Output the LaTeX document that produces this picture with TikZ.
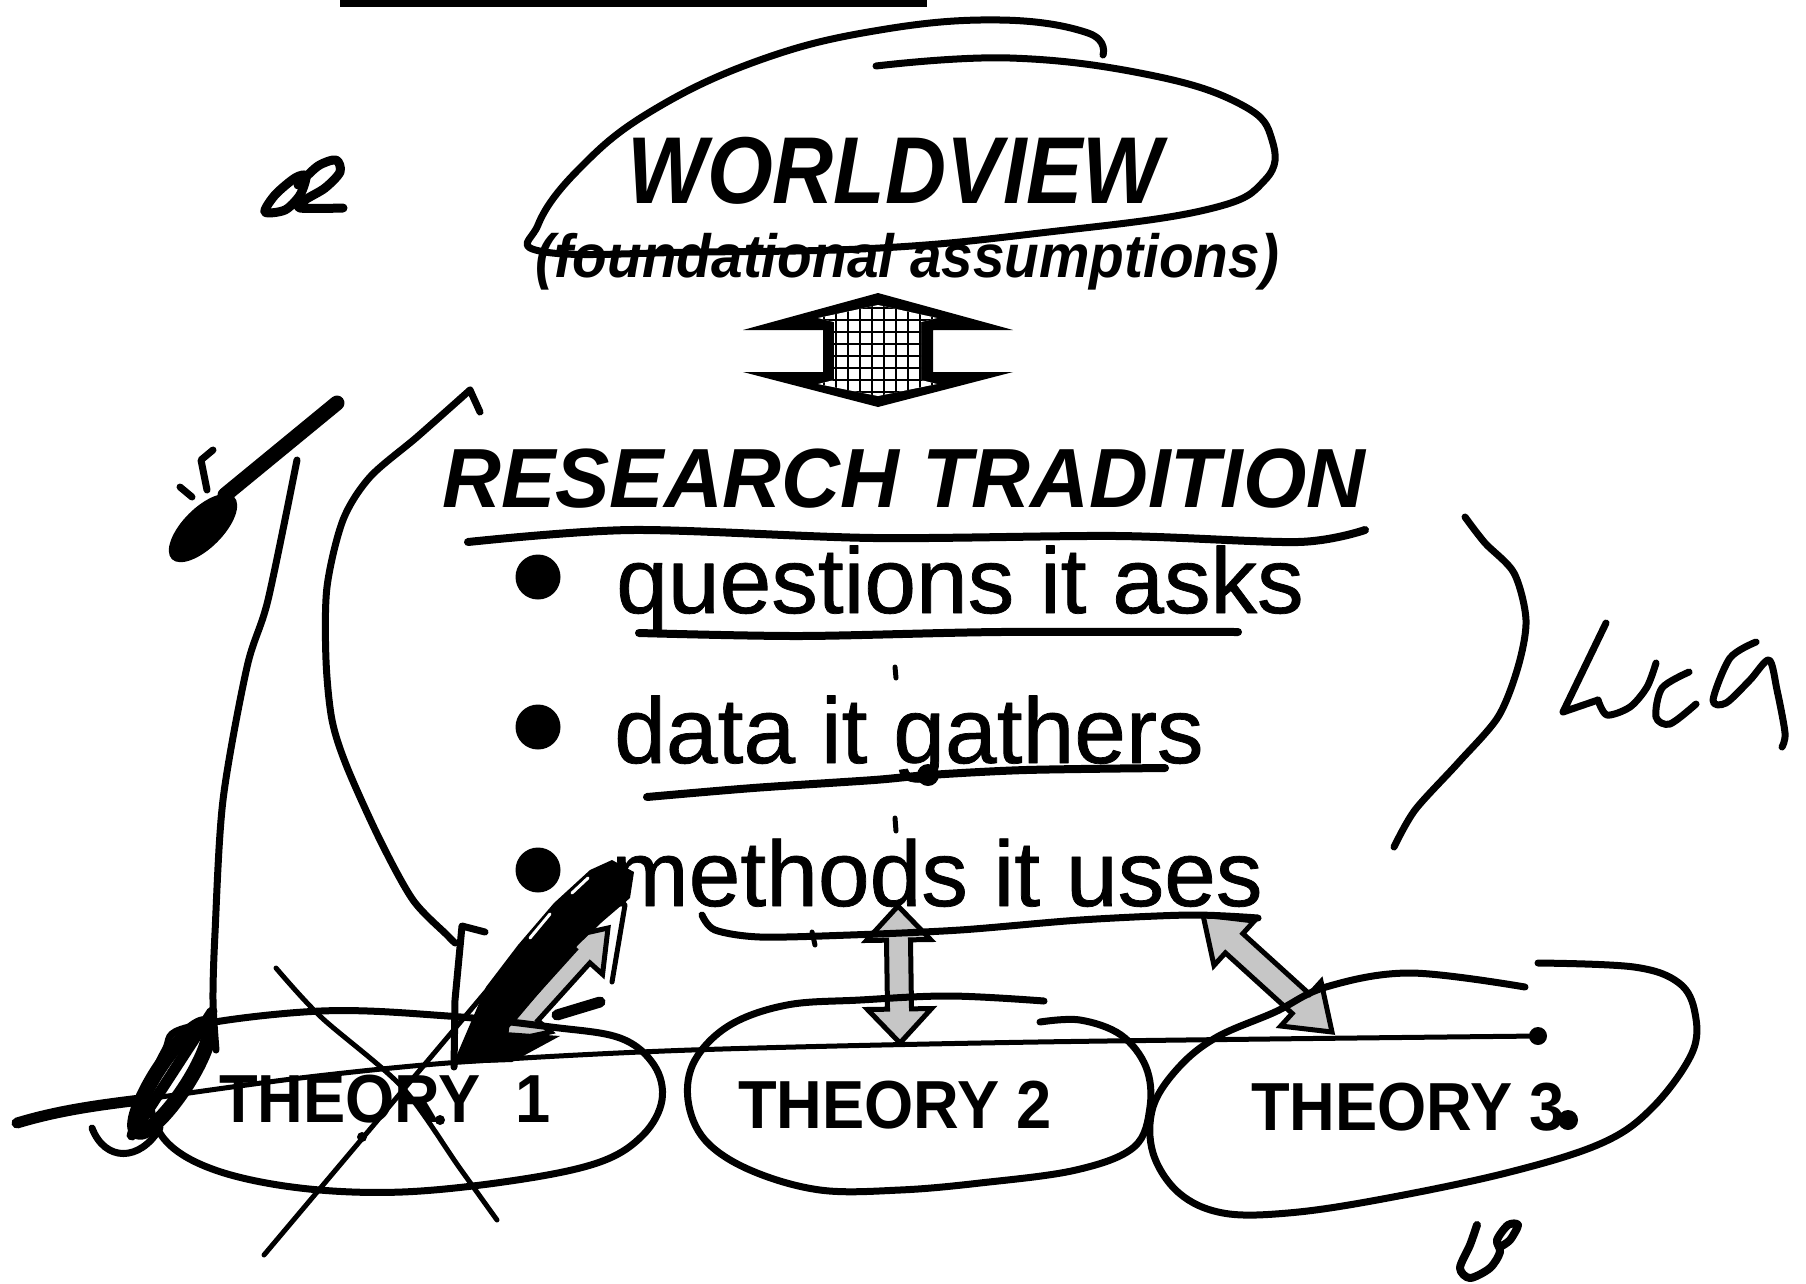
\documentclass[tikz,border=0pt]{standalone}
\usepackage{fontspec}
\setmainfont{Liberation Sans}
\newfontfamily\itemfont[FakeBold=0.8]{Liberation Sans}
\usetikzlibrary{calc}

% two-headed block arrow between two points
\newcommand\twoway[6]{%
  \filldraw[#6] (#1)
    -- ($(#1)!#3!(#2)!#4!90:(#2)$) -- ($(#1)!#3!(#2)!#5!90:(#2)$)
    -- ($(#2)!#3!(#1)!#5!-90:(#1)$) -- ($(#2)!#3!(#1)!#4!-90:(#1)$)
    -- (#2)
    -- ($(#2)!#3!(#1)!#4!90:(#1)$) -- ($(#2)!#3!(#1)!#5!90:(#1)$)
    -- ($(#1)!#3!(#2)!#5!-90:(#2)$) -- ($(#1)!#3!(#2)!#4!-90:(#2)$)
    -- cycle;}

\begin{document}
\begin{tikzpicture}[x=1pt, y=-1pt, line join=round, line cap=round,
    pen/.style={line width=7pt},
    heavypen/.style={line width=11pt},
    thinpen/.style={line width=5pt},
    headtext/.style={inner sep=0pt, anchor=base},
    itemtext/.style={inner sep=0pt, anchor=base west, font=\itemfont\fontsize{93}{100}\selectfont},
    theorytext/.style={inner sep=0pt, anchor=base, font=\fontsize{68}{72}\selectfont\bfseries},
    bullet/.style={circle, fill, inner sep=0pt, minimum size=45pt},
    grayarrow/.style={fill=gray!45, draw=black, line width=5pt, line join=miter}]

  \useasboundingbox (0,0) rectangle (1806,1283);

  % bar at the top edge
  \fill (340,0) rectangle (927,7);

  % printed slide text
  \node[headtext, font=\fontsize{95}{100}\selectfont\bfseries\itshape] (wv) at (895,203) {\scalebox{0.89}[1]{WORLDVIEW}};
  \node[headtext, font=\fontsize{61}{66}\selectfont\bfseries\itshape] (fa) at (907,277) {\scalebox{0.93}[1]{(foundational assumptions)}};
  \node[headtext, font=\fontsize{84}{90}\selectfont\bfseries\itshape] (rt) at (904,507) {\scalebox{0.97}[1]{RESEARCH TRADITION}};

  \node[bullet] (b1) at (538,577) {};
  \node[bullet] (b2) at (538,727) {};
  \node[bullet] (b3) at (538,870) {};
  \node[itemtext] (qu) at (616,613) {questions it asks};
  \node[itemtext] (da) at (614,763) {data it gathers};
  \node[itemtext] (me) at (611,906) {methods it uses};

  \node[theorytext] (t1) at (385,1122) {\scalebox{0.93}[1]{THEORY\ \ 1}};
  \node[theorytext] (t2) at (895,1128) {\scalebox{0.93}[1]{THEORY 2}};
  \node[theorytext] (t3) at (1408,1130) {\scalebox{0.93}[1]{THEORY 3}};

  % big arrow worldview <-> research tradition
  \fill (878,293) -- (743,330) -- (823,330) -- (823,372) -- (743,372) -- (878,407)
    -- (1013,372) -- (933,372) -- (933,330) -- (1013,330) -- cycle;
  \begin{scope}
    \path[clip] (878,305) -- (818,318) -- (834,322) -- (834,380) -- (818,384) -- (878,396)
      -- (937,384) -- (921,380) -- (921,322) -- (937,318) -- cycle;
    \fill[white] (800,290) rectangle (960,410);
    \foreach \gx in {812,824,...,944} \draw[line width=2.5pt] (\gx,290) -- (\gx,410);
    \foreach \gy in {296,308,...,404} \draw[line width=2.5pt] (800,\gy) -- (960,\gy);
  \end{scope}

  % arrows methods <-> theories
  \coordinate (m2) at (898,906);
  \coordinate (th2) at (900,1043);
  \coordinate (m3) at (1203,915);
  \coordinate (th3) at (1332,1032);
  \coordinate (m1) at (608,928);
  \coordinate (th1) at (505,1042);
  \twoway{m2}{th2}{34pt}{32pt}{12pt}{grayarrow}
  \twoway{m3}{th3}{42pt}{30pt}{13pt}{grayarrow}
  \twoway{m1}{th1}{38pt}{27pt}{10pt}{grayarrow}

  % scribbled-over arrow to theory 1
  \fill (453,1064) -- (486,987) -- (518,945) -- (554,903) -- (590,870) -- (612,860) -- (634,872)
    -- (630,898) -- (602,922) -- (578,945) -- (550,980) -- (518,1018) -- (505,1032) -- (560,1036)
    -- (512,1062) -- cycle;
  \draw[white, line width=3pt] (530,938) -- (550,914);
  \draw[white, line width=3pt] (572,893) -- (588,878);
  \draw[heavypen] (600,1002) -- (557,1015);
  \draw[thinpen] (625,905) -- (612,982);

  % worldview loop
  \draw[pen] plot[smooth, tension=0.7] coordinates {(1103,55) (1088,33) (1000,20) (880,30) (760,60)
    (650,112) (578,170) (538,225) (545,252) (700,252) (880,248) (1040,233) (1205,210) (1265,180)
    (1272,140) (1242,105) (1150,75) (1010,58) (876,66)};

  % underlines
  \draw[line width=8pt] plot[smooth] coordinates {(468,542) (632,530) (874,538) (1117,536) (1298,542) (1365,530)};
  \draw[line width=8pt] plot[smooth] coordinates {(639,633) (800,636) (1000,632) (1238,632)};
  \draw[line width=8pt] plot[smooth] coordinates {(647,797) (753,788) (874,780) (929,775) (1026,770) (1165,768)};
  \draw[line width=7pt] plot[smooth] coordinates {(702,915) (715,930) (760,937) (850,935) (960,930) (1080,920) (1190,915) (1258,918)};
  \fill (928,775) circle (11);

  % small ticks
  \draw[thinpen] (895,667) -- (896,678);
  \draw[thinpen] (895,818) -- (896,831);
  \draw[thinpen] (812,932) -- (815,945);

  % theory ovals
  \draw[pen] plot[smooth cycle, tension=0.6] coordinates {(189,1027) (321,1011) (448,1016) (551,1027)
    (620,1038) (654,1065) (662,1100) (643,1135) (600,1162) (517,1180) (402,1192) (300,1188) (215,1170)
    (165,1140) (150,1095) (165,1050)};
  \draw[pen] plot[smooth, tension=0.6] coordinates {(1040,1022) (1080,1020) (1121,1035) (1146,1067)
    (1150,1107) (1134,1147) (1076,1170) (980,1183) (900,1190) (820,1190) (750,1170) (705,1140)
    (688,1100) (695,1060) (730,1025) (787,1005) (860,1000) (950,996) (1044,1001)};
  \draw[pen] plot[smooth, tension=0.6] coordinates {(1525,987) (1410,973) (1326,987) (1275,1012)
    (1217,1037) (1179,1067) (1153,1107) (1153,1153) (1179,1193) (1223,1213) (1288,1213) (1377,1200)
    (1506,1173) (1602,1143) (1653,1107) (1692,1053) (1695,1013) (1679,983) (1634,967) (1538,963)};
  \fill (1568,1120) circle (10);
  \fill (362,1137) circle (5);
  \fill (440,1120) circle (5);

  % line through the theories
  \draw[heavypen] (17,1123) .. controls (60,1110) and (100,1105) .. (140,1100);
  \draw[thinpen] plot[smooth] coordinates {(140,1100) (300,1078) (461,1062) (691,1050) (1037,1042) (1538,1036)};
  \fill (1538,1036) circle (9);

  % crossing out theory 1
  \begin{scope}[shift={(172,1078)}, rotate=57]
    \draw[line width=15pt] (0,0) ellipse [x radius=64, y radius=16];
  \end{scope}
  \draw[heavypen] (132,1135) -- (212,1012);
  \draw[pen] (92,1128) .. controls (105,1162) and (140,1162) .. (160,1128);
  \draw[thinpen] plot[smooth] coordinates {(276,968) (321,1017) (402,1087) (459,1167) (497,1220)};
  \draw[thinpen] (264,1255) -- (527,943);

  % left hand strokes
  \draw[pen] plot[smooth] coordinates {(297,460) (268,600) (247,667) (223,800) (215,933) (213,1000) (216,1050)};
  \draw[line width=15pt] (337,403) -- (225,495);
  \begin{scope}[shift={(203,528)}, rotate=45]
    \fill (0,0) ellipse [x radius=44, y radius=20];
  \end{scope}
  \draw[pen] (213,450) -- (201,460) -- (207,490);
  \draw[pen] (180,487) -- (192,497);
  \draw[pen] (480,412) -- (470,390);
  \draw[pen] plot[smooth] coordinates {(470,390) (417,437) (370,477) (343,520) (327,587) (326,660)
    (332,720) (347,767) (380,840) (413,900) (447,935) (455,943)};
  \draw[pen] (485,932) -- (462,926) -- (455,1000) -- (454,1067);

  % right bracket
  \draw[pen] plot[smooth] coordinates {(1465,517) (1485,543) (1514,573) (1526,620) (1518,667)
    (1498,717) (1458,763) (1415,810) (1394,847)};

  % handwritten marks
  \draw[line width=9pt] plot[smooth cycle] coordinates {(265,212) (275,195) (295,178) (306,176) (300,195) (285,210)};
  \draw[line width=9pt] plot[smooth] coordinates {(298,185) (318,166) (336,160) (340,172) (325,188) (305,200) (300,208) (343,208)};
  \draw[pen] (1606,623) -- (1563,712) -- (1598,700);
  \draw[pen] plot[smooth] coordinates {(1598,700) (1607,715) (1630,707) (1647,687) (1656,663)};
  \draw[pen] plot[smooth] coordinates {(1689,672) (1662,688) (1656,717) (1670,724) (1696,704)};
  \draw[pen] plot[smooth] coordinates {(1756,642) (1730,658) (1713,700) (1726,703) (1750,680) (1769,660) (1777,690) (1785,733) (1782,747)};
  \draw[line width=8pt] plot[smooth] coordinates {(1477,1225) (1470,1245) (1460,1268) (1470,1278) (1490,1268) (1500,1252) (1497,1240) (1508,1225) (1518,1225) (1510,1240) (1500,1247)};
\end{tikzpicture}
\end{document}
